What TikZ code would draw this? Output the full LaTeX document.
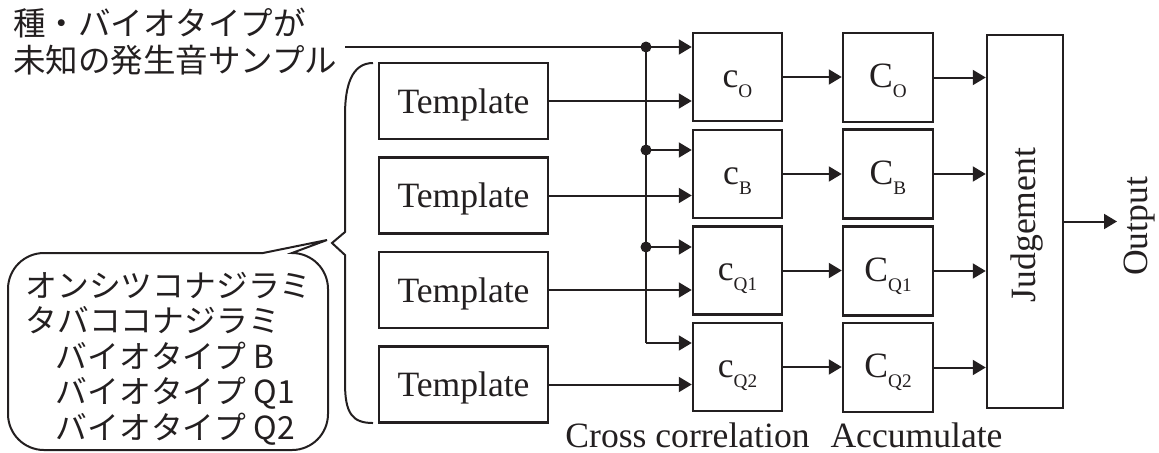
\documentclass[tikz,border=0pt]{standalone}
\usepackage{fontspec}
\setmainfont{Liberation Serif}
\newfontfamily\jpfont{Noto Sans CJK JP}
\usetikzlibrary{arrows.meta}
\definecolor{ink}{RGB}{35,31,32}
% lowered, smaller subscript used in the block labels
\newcommand\lowsub[1]{\raisebox{-5pt}{\fontsize{9.6}{10}\selectfont #1}}

\begin{document}
\begin{tikzpicture}[x=0.5pt,y=-0.5pt,
  blk/.style={draw=ink, line width=1.25pt, inner sep=0pt, text=ink,
    font=\fontsize{17.8}{20}\selectfont},
  tmpl/.style={blk, minimum width=84.5pt, minimum height=38pt,
    text height=12pt, text depth=0pt},
  corr/.style={blk, minimum width=44.5pt, minimum height=44pt,
    text height=10pt, text depth=0pt},
  accu/.style={blk, minimum width=45pt, minimum height=44.5pt,
    text height=10pt, text depth=0pt},
  wire/.style={draw=ink, line width=1pt},
  sig/.style={wire, -{Triangle[length=6.5pt,width=7.5pt]}},
  lbl/.style={text=ink, inner sep=0pt, font=\fontsize{17.8}{20}\selectfont},
  jptop/.style={text=ink, inner sep=0pt, align=left,
    font=\jpfont\fontsize{16.25}{18.5}\selectfont},
  jpcall/.style={text=ink, inner sep=0pt, align=left,
    font=\jpfont\fontsize{15.9}{17.75}\selectfont}]

\useasboundingbox (0,0) rectangle (1159,452);

% input label (base anchor sits on the last line)
\node[jptop, anchor=base west] (query) at (13,72)
  {種・バイオタイプが\\未知の発生音サンプル};

% templates
\node[tmpl] (tO) at (463.5,101) {Template};
\node[tmpl] (tB) at (463.5,195.5) {Template};
\node[tmpl] (tQ1) at (463.5,290) {Template};
\node[tmpl] (tQ2) at (463.5,384.5) {Template};

% cross correlation blocks
\node[corr] (cO) at (737.5,77) {c\lowsub{O}};
\node[corr] (cB) at (737.5,174) {c\lowsub{B}};
\node[corr] (cQ1) at (737.5,270.5) {c\lowsub{Q1}};
\node[corr] (cQ2) at (737.5,367) {c\lowsub{Q2}};

% accumulators
\node[accu] (CO) at (888,77.5) {C\lowsub{O}};
\node[accu] (CB) at (888,174) {C\lowsub{B}};
\node[accu] (CQ1) at (888,271) {C\lowsub{Q1}};
\node[accu] (CQ2) at (888,367.5) {C\lowsub{Q2}};

% judgement
\node[blk, minimum width=38pt, minimum height=186.5pt] (J) at (1025,221.5) {};
\node[lbl, rotate=90, anchor=base] (Jt) at (1035,225) {Judgement};
\node[lbl, rotate=90, anchor=base] (out) at (1147,226.5) {Output};
\coordinate (oe) at (1117,221.5);

% column captions
\node[lbl, anchor=base] (xcap) at (687.5,447) {Cross correlation};
\node[lbl, anchor=base] (acap) at (916.5,447) {Accumulate};

% signal distribution
\coordinate (src) at (345,47);
\coordinate (d0) at (646,47);
\coordinate (d1) at (646,150);
\coordinate (d2) at (646,247);
\coordinate (d3) at (646,343);
\draw[sig] (src) -- (src -| cO.west);
\draw[wire] (d0) -- (d3);
\draw[sig] (d1) -- (d1 -| cB.west);
\draw[sig] (d2) -- (d2 -| cQ1.west);
\draw[sig] (d3) -- (d3 -| cQ2.west);
\foreach \p in {d0,d1,d2} \fill[ink] (\p) circle[radius=2.75pt];

% template inputs
\draw[sig] (tO.east) -- (tO.east -| cO.west);
\draw[sig] (tB.east) -- (tB.east -| cB.west);
\draw[sig] (tQ1.east) -- (tQ1.east -| cQ1.west);
\draw[sig] (tQ2.east) -- (tQ2.east -| cQ2.west);

% correlation -> accumulate -> judgement
\foreach \s in {O,B,Q1,Q2} {
  \draw[sig] (c\s.east) -- (c\s.east -| C\s.west);
  \draw[sig] (C\s.east) -- (C\s.east -| J.west);
}
\draw[sig] (J.east) -- (oe);

% brace over the templates
\draw[wire] (373,63) .. controls (352,63) and (345,85) .. (345,115)
  -- (345,232) -- (332,243) -- (345,255) -- (345,383)
  .. controls (345,413) and (352,423) .. (373,423);

% speech balloon listing the species
\draw[wire] (263,253) -- (327,240) -- (292,253)
  arc[start angle=-90,end angle=0,radius=36] -- (328,414)
  arc[start angle=0,end angle=90,radius=36] -- (44,450)
  arc[start angle=90,end angle=180,radius=36] -- (8,289)
  arc[start angle=180,end angle=270,radius=36] -- cycle;
\node[jpcall, anchor=base west] (species) at (25,439)
  {オンシツコナジラミ\\タバココナジラミ\\\hspace*{0.95em}バイオタイプ B\\\hspace*{0.95em}バイオタイプ Q1\\\hspace*{0.95em}バイオタイプ Q2};

\end{tikzpicture}
\end{document}
